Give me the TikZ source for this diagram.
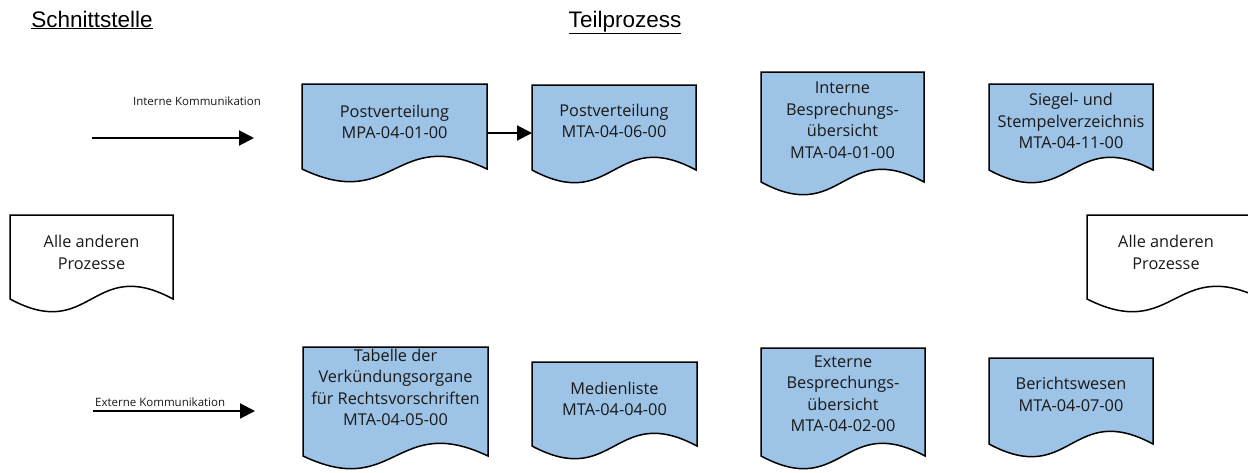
\documentclass[tikz,border=0pt]{standalone}
\usepackage{fontspec}
\setmainfont{Open Sans}
\newfontfamily\headfont{Liberation Sans}
\usetikzlibrary{arrows.meta,calc}

\definecolor{docblue}{RGB}{157,195,230}

% document shape: rectangle with a wavy lower edge
\newcommand{\wavedoc}[6]{% #1 name, #2 fill, #3 left, #4 right, #5 top, #6 bottom corner
  \node[docarea, minimum width={(#4-#3)*1pt}, minimum height={(#6-#5)*1pt}]
    (#1) at ({(#3+#4)/2},{(#5+#6)/2}) {};
  \filldraw[docline, fill=#2] (#1.north west) -- (#1.north east) -- (#1.south east)
    .. controls ($(#1.south)+(0,-44)$) and ($(#1.south)+(0,44)$) .. (#1.south west) -- cycle;
}

\tikzset{
  docarea/.style={draw=none, inner sep=0pt, outer sep=0pt, rectangle},
  docline/.style={draw=black, line width=1.5pt, line join=miter},
  doctext/.style={align=center, inner sep=0pt, text=black!90,
    font=\fontsize{16.3}{21.5}\selectfont},
  smalltext/.style={inner sep=0pt, text=black!90, font=\fontsize{11.5}{13}\selectfont},
  heading/.style={inner sep=0pt, anchor=base, font=\headfont\fontsize{22.5}{26}\selectfont},
  flow/.style={line width=2pt, -{Triangle[length=15pt, width=15pt]}},
}

\begin{document}
\begin{tikzpicture}[x=1pt, y=-1pt]
\useasboundingbox (0,0) rectangle (1248,472);
\clip (0,0) rectangle (1248,472);
\fill[white] (0,0) rectangle (1248,472);

% column headings
\node[heading] (hSchnitt) at (92,27) {\underline{Schnittstelle}};
\node[heading] (hTeil) at (625,27) {\underline{Teilprozess}};

% interfaces at both sides
\wavedoc{alleL}{white}{10}{173}{215}{299}
\node[doctext] (alleLt) at (91.5,252.5) {Alle anderen\\Prozesse};
\wavedoc{alleR}{white}{1087}{1262}{215}{299}
\node[doctext] (alleRt) at (1166,252.5) {Alle anderen\\Prozesse};

% upper row: internal communication
\wavedoc{pvMPA}{docblue}{302}{487}{84}{169}
\node[doctext] (pvMPAt) at (394.5,122) {Postverteilung\\MPA-04-01-00};
\wavedoc{pvMTA}{docblue}{532}{696}{85}{170}
\node[doctext] (pvMTAt) at (614,121) {Postverteilung\\MTA-04-06-00};
\wavedoc{intB}{docblue}{761}{924}{72}{182}
\node[doctext] (intBt) at (842.5,120.5) {Interne\\Besprechungs-\\übersicht\\MTA-04-01-00};
\wavedoc{siegel}{docblue}{989}{1153}{84}{170}
\node[doctext] (siegelt) at (1071,121) {Siegel- und\\Stempelverzeichnis\\MTA-04-11-00};

% lower row: external communication
\wavedoc{tab}{docblue}{303}{488}{347}{456}
\node[doctext] (tabt) at (395.5,387.5) {Tabelle der\\Verkündungsorgane\\für Rechtsvorschriften\\MTA-04-05-00};
\wavedoc{medien}{docblue}{532}{697}{362}{446}
\node[doctext] (medient) at (614.5,399) {Medienliste\\MTA-04-04-00};
\wavedoc{extB}{docblue}{761}{925}{348}{456}
\node[doctext] (extBt) at (843,394) {Externe\\Besprechungs-\\übersicht\\MTA-04-02-00};
\wavedoc{bericht}{docblue}{989}{1153}{358}{444}
\node[doctext] (berichtt) at (1071,394.5) {Berichtswesen\\MTA-04-07-00};

% communication arrows
\coordinate (ikA) at (92,138);
\coordinate (ikB) at (254,138);
\draw[flow] (ikA) -- (ikB);
\node[smalltext] (ikLabel) at (197,101) {Interne Kommunikation};

\coordinate (ekA) at (93,411);
\coordinate (ekB) at (255,411);
\draw[flow] (ekA) -- (ekB);
\node[smalltext, anchor=south west] (ekLabel) at (95,407) {Externe Kommunikation};

\draw[flow] ([yshift=-6.5pt]pvMPA.east) -- ([yshift=-6.5pt]pvMPA.east -| pvMTA.west);
\end{tikzpicture}
\end{document}
